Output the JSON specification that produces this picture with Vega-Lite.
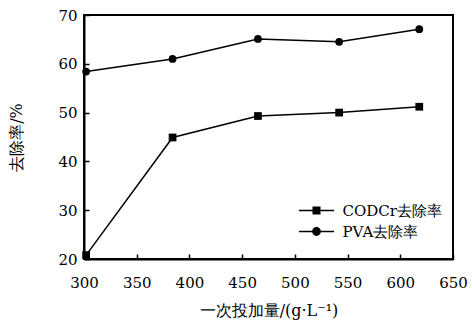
{
  "$schema": "https://vega.github.io/schema/vega-lite/v6.json",
  "width": 369,
  "height": 244,
  "autosize": {"type": "none"},
  "padding": {"left": 84, "top": 15, "right": 20, "bottom": 61},
  "background": "white",
  "config": {
    "font": "DejaVu Serif",
    "view": {"stroke": "black", "strokeWidth": 2},
    "axis": {
      "domainColor": "black",
      "domainWidth": 2,
      "tickColor": "black",
      "tickWidth": 1.5,
      "labelColor": "black",
      "titleColor": "black",
      "labelFont": "DejaVu Serif",
      "titleFont": "DejaVu Serif",
      "labelFontSize": 15,
      "titleFontSize": 16,
      "titleFontWeight": "normal",
      "grid": false
    },
    "legend": {"labelFont": "DejaVu Serif"}
  },
  "data": {
    "values": [
      {"x": 302, "y": 20.8, "s": "CODCr去除率"},
      {"x": 384, "y": 44.9, "s": "CODCr去除率"},
      {"x": 465, "y": 49.3, "s": "CODCr去除率"},
      {"x": 542, "y": 50.0, "s": "CODCr去除率"},
      {"x": 618, "y": 51.2, "s": "CODCr去除率"},
      {"x": 302, "y": 58.4, "s": "PVA去除率"},
      {"x": 384, "y": 61.0, "s": "PVA去除率"},
      {"x": 465, "y": 65.1, "s": "PVA去除率"},
      {"x": 542, "y": 64.5, "s": "PVA去除率"},
      {"x": 618, "y": 67.1, "s": "PVA去除率"}
    ]
  },
  "encoding": {
    "x": {
      "field": "x",
      "type": "quantitative",
      "scale": {"domain": [300, 650], "nice": false, "zero": false},
      "axis": {
        "values": [300, 350, 400, 450, 500, 550, 600, 650],
        "title": "一次投加量/(g·L⁻¹)",
        "tickSize": -5,
        "labelPadding": 21,
        "titlePadding": 12,
        "labelFlush": false
      }
    },
    "y": {
      "field": "y",
      "type": "quantitative",
      "scale": {"domain": [20, 70], "nice": false, "zero": false},
      "axis": {
        "values": [20, 30, 40, 50, 60, 70],
        "title": "去除率/%",
        "tickSize": -5,
        "labelPadding": 12,
        "titlePadding": 33
      }
    }
  },
  "layer": [
    {
      "mark": {"type": "line", "color": "black", "strokeWidth": 1.5},
      "encoding": {"detail": {"field": "s", "type": "nominal"}}
    },
    {
      "mark": {"type": "point", "filled": true, "color": "black", "opacity": 1, "size": 60},
      "encoding": {
        "shape": {
          "field": "s",
          "type": "nominal",
          "scale": {"domain": ["CODCr去除率", "PVA去除率"], "range": ["square", "circle"]},
          "legend": null
        }
      }
    },
    {
      "transform": [{"filter": "datum.x > 100000"}],
      "mark": {"type": "point", "filled": true, "color": "black", "opacity": 1},
      "encoding": {
        "shape": {
          "field": "s",
          "type": "nominal",
          "scale": {
            "domain": ["CODCr去除率", "PVA去除率"],
            "range": [
              "M-4.4,-0.19H-1V0.19H-4.4Z M-1,-1H1V1H-1Z M1,-0.19H4.4V0.19H1Z",
              "M-4.4,-0.19H-1.08V0.19H-4.4Z M1.1,0A1.1,1.1,0,1,1,-1.1,0A1.1,1.1,0,1,1,1.1,0Z M1.08,-0.19H4.4V0.19H1.08Z"
            ]
          },
          "legend": {
            "title": null,
            "orient": "none",
            "legendX": 225,
            "legendY": 188,
            "padding": 0,
            "symbolSize": 64,
            "symbolFillColor": "black",
            "symbolOpacity": 1,
            "labelOffset": 18.5,
            "labelFontSize": 15,
            "labelColor": "black",
            "labelLimit": 300,
            "rowPadding": 5
          }
        }
      }
    }
  ],
  "resolve": {"scale": {"shape": "independent"}, "legend": {"shape": "independent"}}
}
